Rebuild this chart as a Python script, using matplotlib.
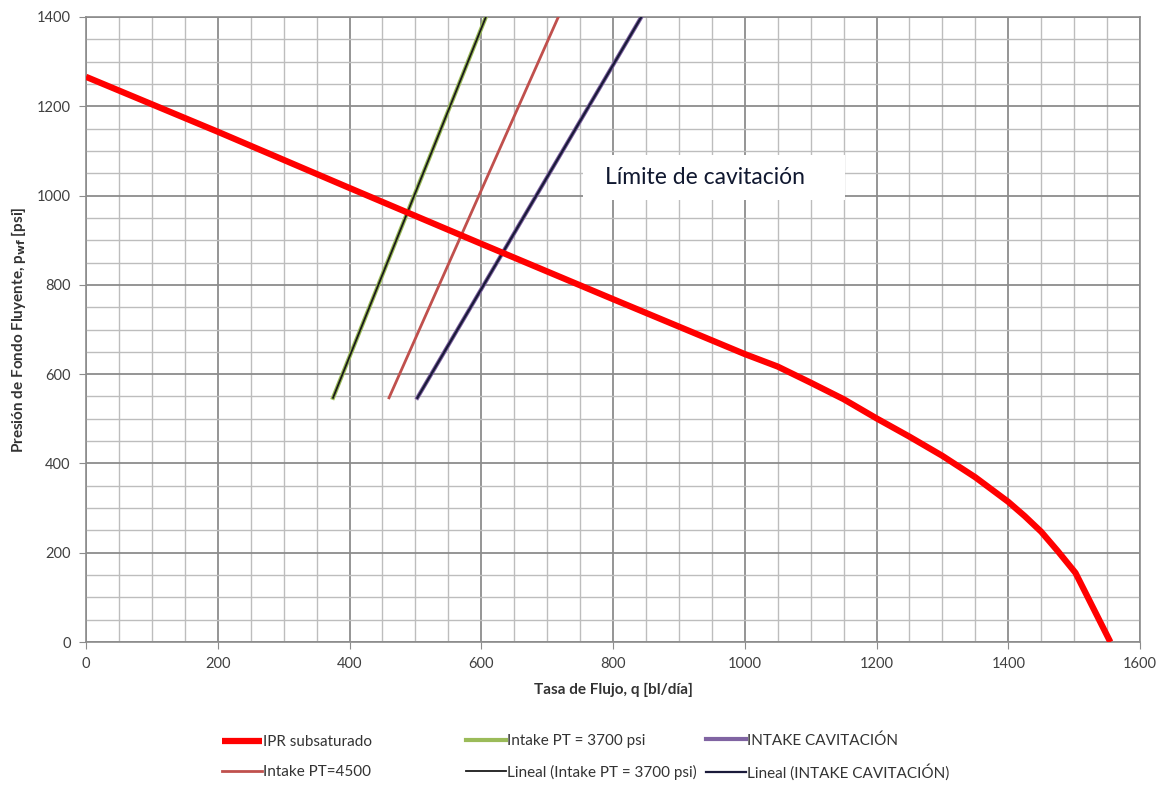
import matplotlib
matplotlib.use("Agg")
import matplotlib.pyplot as plt
import numpy as np
from matplotlib.ticker import MultipleLocator
from matplotlib.patches import Rectangle

plt.rcParams['font.family'] = ['Lato', 'DejaVu Sans']

# IPR subsaturado
ipr_q = [0, 200, 400, 600, 800, 1000, 1050, 1100, 1150, 1200, 1250, 1300, 1350, 1400,
         1425, 1450, 1475, 1502, 1555]
ipr_p = [1266, 1143, 1017, 892, 768, 645, 617, 581, 544, 501, 460, 417, 369, 314,
         282, 247, 204, 155, 0]

# Intake PT = 3700 psi
pt3700_q = [375, 607]
pt3700_p = [547, 1400]

# Intake PT=4500
pt4500_q = [460, 717]
pt4500_p = [547, 1400]

# INTAKE CAVITACION
cav_q = [503, 843]
cav_p = [547, 1400]

W, H = 1166, 785
fig = plt.figure(figsize=(W / 100, H / 100), dpi=100)
ax = fig.add_axes([86 / W, 1 - 642 / H, (1140 - 86) / W, (642 - 17) / H])

major_c = '#8c8c8c'
minor_c = '#bdbdbd'

l_ipr, = ax.plot(ipr_q, ipr_p, color='#ff0000', lw=4.5, solid_capstyle='butt',
                 solid_joinstyle='round', zorder=5, label='IPR subsaturado')
l_45, = ax.plot(pt4500_q, pt4500_p, color='#c0504d', lw=2.0, zorder=4, label='Intake PT=4500')
l_37, = ax.plot(pt3700_q, pt3700_p, color='#9bbb59', lw=3.0, zorder=4, label='Intake PT = 3700 psi')
l_cav, = ax.plot(cav_q, cav_p, color='#8064a2', lw=3.0, zorder=4, label='INTAKE CAVITACIÓN')

# Linear trendlines
c37 = np.polyfit(pt3700_q, pt3700_p, 1)
xx37 = np.array([min(pt3700_q), max(pt3700_q)])
t37, = ax.plot(xx37, np.polyval(c37, xx37), color='#1a1a1a', lw=1.3, zorder=4.5,
               label='Lineal (Intake PT = 3700 psi)')
ccav = np.polyfit(cav_q, cav_p, 1)
xxcav = np.array([min(cav_q), max(cav_q)])
tcav, = ax.plot(xxcav, np.polyval(ccav, xxcav), color='#1a1a3a', lw=1.6, zorder=4.5,
                label='Lineal (INTAKE CAVITACIÓN)')

ax.set_xlim(0, 1600)
ax.set_ylim(0, 1400)
ax.xaxis.set_major_locator(MultipleLocator(200))
ax.yaxis.set_major_locator(MultipleLocator(200))
ax.xaxis.set_minor_locator(MultipleLocator(50))
ax.yaxis.set_minor_locator(MultipleLocator(50))
ax.grid(which='major', color=major_c, lw=1.3, zorder=0)
ax.grid(which='minor', color=minor_c, lw=1.0, zorder=0)
ax.set_axisbelow(True)
for s in ax.spines.values():
    s.set_color(major_c)
    s.set_linewidth(1.2)
ax.tick_params(which='major', length=5, color=major_c, labelsize=10.5, labelcolor='#404040', pad=6)
ax.tick_params(which='minor', length=0)

ax.set_xlabel('Tasa de Flujo, q [bl/día]', fontsize=11, fontweight='bold', color='#333333', labelpad=8)
ax.set_ylabel(r'Presión de Fondo Fluyente, p$_{\mathbf{wf}}$ [psi]', fontsize=11, fontweight='bold',
              color='#333333', labelpad=6)

# annotation box (in pixel-derived axes fractions)
bx0, bx1 = (583 - 86) / 1054, (845 - 86) / 1054
by0, by1 = (642 - 200) / 625, (642 - 155) / 625
ax.add_patch(Rectangle((bx0, by0), bx1 - bx0, by1 - by0, transform=ax.transAxes,
                       facecolor='white', edgecolor='none', zorder=6))
ax.text((605 - 86) / 1054, (642 - 177) / 625, 'Límite de cavitación', fontsize=16.5,
        color='#101830', ha='left', va='center', transform=ax.transAxes, zorder=7)

groups = [((222, [l_ipr, l_45])), ((466, [l_37, t37])), ((706, [l_cav, tcav]))]
for xpix, hs in groups:
    leg = fig.legend(hs, [h.get_label() for h in hs], loc='center left',
                     bbox_to_anchor=(xpix / W, 1 - 757 / H), frameon=False, fontsize=11,
                     handlelength=2.6, handletextpad=0.1, labelspacing=1.05,
                     borderpad=0, borderaxespad=0)
    for t in leg.get_texts():
        t.set_color('#333333')

fig.savefig('out.png', dpi=100)
